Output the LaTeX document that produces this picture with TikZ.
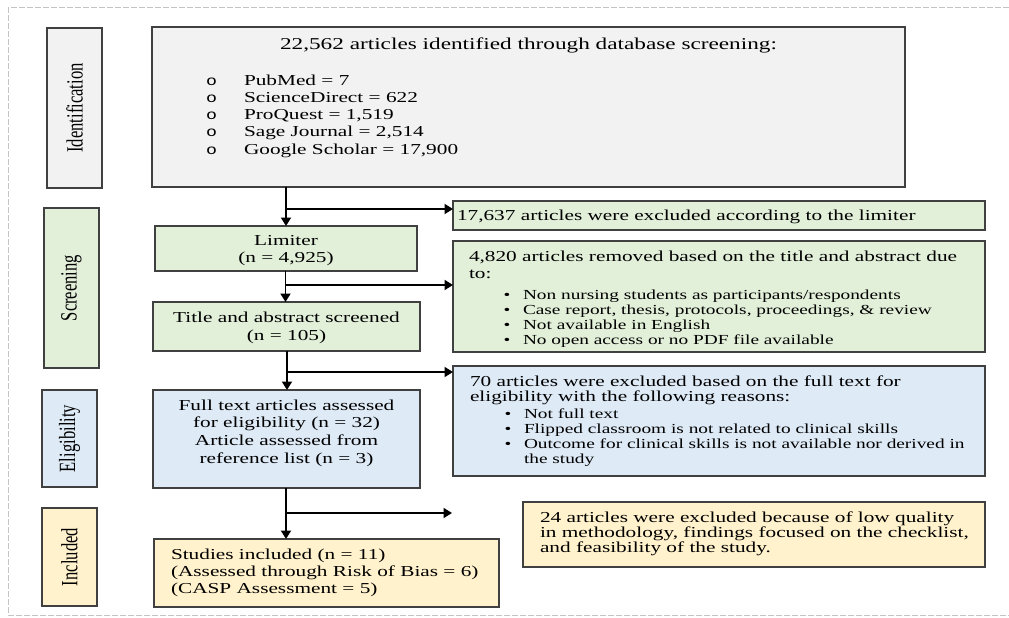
\documentclass[tikz,border=0pt]{standalone}
\usepackage{fontspec}
\usepackage{graphicx}
\setmainfont{Liberation Serif}[FakeStretch=1.4]
\newfontfamily\labfont{Liberation Serif}
\newfontfamily\obulfont{Liberation Mono}[FakeStretch=1.3]
\usetikzlibrary{arrows.meta}
\definecolor{cgray}{HTML}{F2F2F2}
\definecolor{cgreen}{HTML}{E2EFD9}
\definecolor{cblue}{HTML}{DEEAF6}
\definecolor{cyel}{HTML}{FFF2CC}
\definecolor{cline}{HTML}{404040}
\definecolor{cframe}{HTML}{C4C4C4}
\newcommand\fsA[1]{\fontsize{15.2pt}{#1}\selectfont}
\newcommand\fsB{\fontsize{13.8pt}{15pt}\selectfont}
\newcommand\fsT{\fontsize{16.6pt}{18pt}\selectfont}
\newcommand\bl{\hspace*{34.6pt}\makebox[19.4pt][l]{\textbullet}}
\newcommand\bi{\hspace*{54pt}}
\newcommand\ob{\makebox[38.4pt][l]{\hspace*{0.6pt}\obulfont\fontsize{14pt}{14pt}\selectfont o}}
\begin{document}
\begin{tikzpicture}[x=1pt,y=-1pt,
  box/.style={draw=cline, line width=1.3pt, inner sep=0pt, outer sep=0pt},
  lab/.style={box, font=\labfont\fontsize{16.6pt}{18pt}\selectfont},
  txt/.style={inner sep=0pt, outer sep=0pt},
  link/.style={draw=black, line width=1.8pt},
  arr/.style={link, -{Triangle[length=8.5pt,width=10pt]}},
  frame/.style={draw=cframe, line width=1pt, dash pattern=on 6pt off 2pt}]
\useasboundingbox (0,0) rectangle (1009,618);
\draw[frame] (1009,8) -- (8,8) -- (8,615) -- (1009,615);

% stage labels
\node[lab, fill=cgray, minimum width=55pt, minimum height=160pt] (lid) at (74.5,108) {\rotatebox{90}{\scalebox{1}[1.4]{Identification}}};
\node[lab, fill=cgreen, minimum width=55pt, minimum height=160pt] (lscr) at (71.5,288) {\rotatebox{90}{\scalebox{1}[1.4]{Screening}}};
\node[lab, fill=cblue, minimum width=55pt, minimum height=97pt] (lel) at (69.5,438.5) {\rotatebox{90}{\scalebox{1}[1.4]{Eligibility}}};
\node[lab, fill=cyel, minimum width=55pt, minimum height=98pt] (linc) at (69.5,557) {\rotatebox{90}{\scalebox{1}[1.4]{Included}}};

% main boxes
\node[box, fill=cgray, minimum width=753pt, minimum height=160pt, anchor=north west] (top) at (152,27) {};
\node[box, fill=cgreen, minimum width=262pt, minimum height=45pt, anchor=north west] (lim) at (155,226) {};
\node[box, fill=cgreen, minimum width=267pt, minimum height=49pt, anchor=north west] (tas) at (153,302) {};
\node[box, fill=cblue, minimum width=267pt, minimum height=98pt, anchor=north west] (full) at (153,390) {};
\node[box, fill=cyel, minimum width=345pt, minimum height=68pt, anchor=north west] (inc) at (154,539) {};
\node[box, fill=cgreen, minimum width=532pt, minimum height=29pt, anchor=north west] (ex1) at (453,201) {};
\node[box, fill=cgreen, minimum width=532pt, minimum height=111pt, anchor=north west] (ex2) at (453,241) {};
\node[box, fill=cblue, minimum width=532pt, minimum height=110pt, anchor=north west] (ex3) at (453,366) {};
\node[box, fill=cyel, minimum width=462pt, minimum height=65pt, anchor=north west] (ex4) at (523,502) {};

% texts
\node[txt, anchor=base] (ttl) at (528.5,50) {\fsT 22,562 articles identified through database screening:};
\node[txt, anchor=base west] (src) at (205.6,85) {\fsA{17.25pt}\begin{tabular}[t]{@{}l@{}l@{}}
\ob & PubMed = 7\\
\ob & ScienceDirect = 622\\
\ob & ProQuest = 1,519\\
\ob & Sage Journal = 2,514\\
\ob & Google Scholar = 17,900
\end{tabular}};
\node[txt, anchor=base] (tlim) at (286,245) {\fsA{17pt}\begin{tabular}[t]{@{}c@{}}Limiter\\(n = 4,925)\end{tabular}};
\node[txt, anchor=base] (ttas) at (286.5,322) {\fsA{18pt}\begin{tabular}[t]{@{}c@{}}Title and abstract screened\\(n = 105)\end{tabular}};
\node[txt, anchor=base] (tfull) at (286.5,410) {\fsA{17.7pt}\begin{tabular}[t]{@{}c@{}}Full text articles assessed\\for eligibility (n = 32)\\Article assessed from\\reference list (n = 3)\end{tabular}};
\node[txt, anchor=base west] (tinc) at (171,559) {\fsA{17pt}\begin{tabular}[t]{@{}l@{}}Studies included (n = 11)\\(Assessed through Risk of Bias = 6)\\(CASP Assessment = 5)\end{tabular}};
\node[txt, anchor=base west] (tex1) at (457,220) {\fsA{17pt}17,637 articles were excluded according to the limiter};
\node[txt, anchor=base west] (tex2) at (469,261) {\fsA{15pt}\begin{tabular}[t]{@{}l@{}}
4,820 articles removed based on the title and abstract due\\[2pt]
to:\\[6pt]
\fsB\bl Non nursing students as participants/respondents\\
\fsB\bl Case report, thesis, protocols, proceedings, \& review\\
\fsB\bl Not available in English\\
\fsB\bl No open access or no PDF file available
\end{tabular}};
\node[txt, anchor=base west] (tex3) at (470,386) {\fsA{15pt}\begin{tabular}[t]{@{}l@{}}
70 articles were excluded based on the full text for\\
eligibility with the following reasons:\\[2pt]
\fsB\bl Not full text\\
\fsB\bl Flipped classroom is not related to clinical skills\\
\fsB\bl Outcome for clinical skills is not available nor derived in\\
\fsB\bi the study
\end{tabular}};
\node[txt, anchor=base west] (tex4) at (540,522) {\fsA{14.6pt}\begin{tabular}[t]{@{}l@{}}
24 articles were excluded because of low quality\\
in methodology, findings focused on the checklist,\\
and feasibility of the study.
\end{tabular}};

% connectors
\coordinate (j1) at (286,209);
\coordinate (j2) at (285.5,285);
\coordinate (j3) at (287,372);
\coordinate (j4) at (286,513);
\coordinate (e4) at (452,513);
\draw[arr] (top.south -| j1) -- (lim.north -| j1);
\draw[arr] (j1) -- (ex1.west |- j1);
\draw[arr] (lim.south -| j2) -- (tas.north -| j2);
\draw[arr] (j2) -- (ex2.west |- j2);
\draw[arr] (tas.south -| j3) -- (full.north -| j3);
\draw[arr] (j3) -- (ex3.west |- j3);
\draw[arr] (full.south -| j4) -- (inc.north -| j4);
\draw[arr] (j4) -- (e4);
\end{tikzpicture}
\end{document}
